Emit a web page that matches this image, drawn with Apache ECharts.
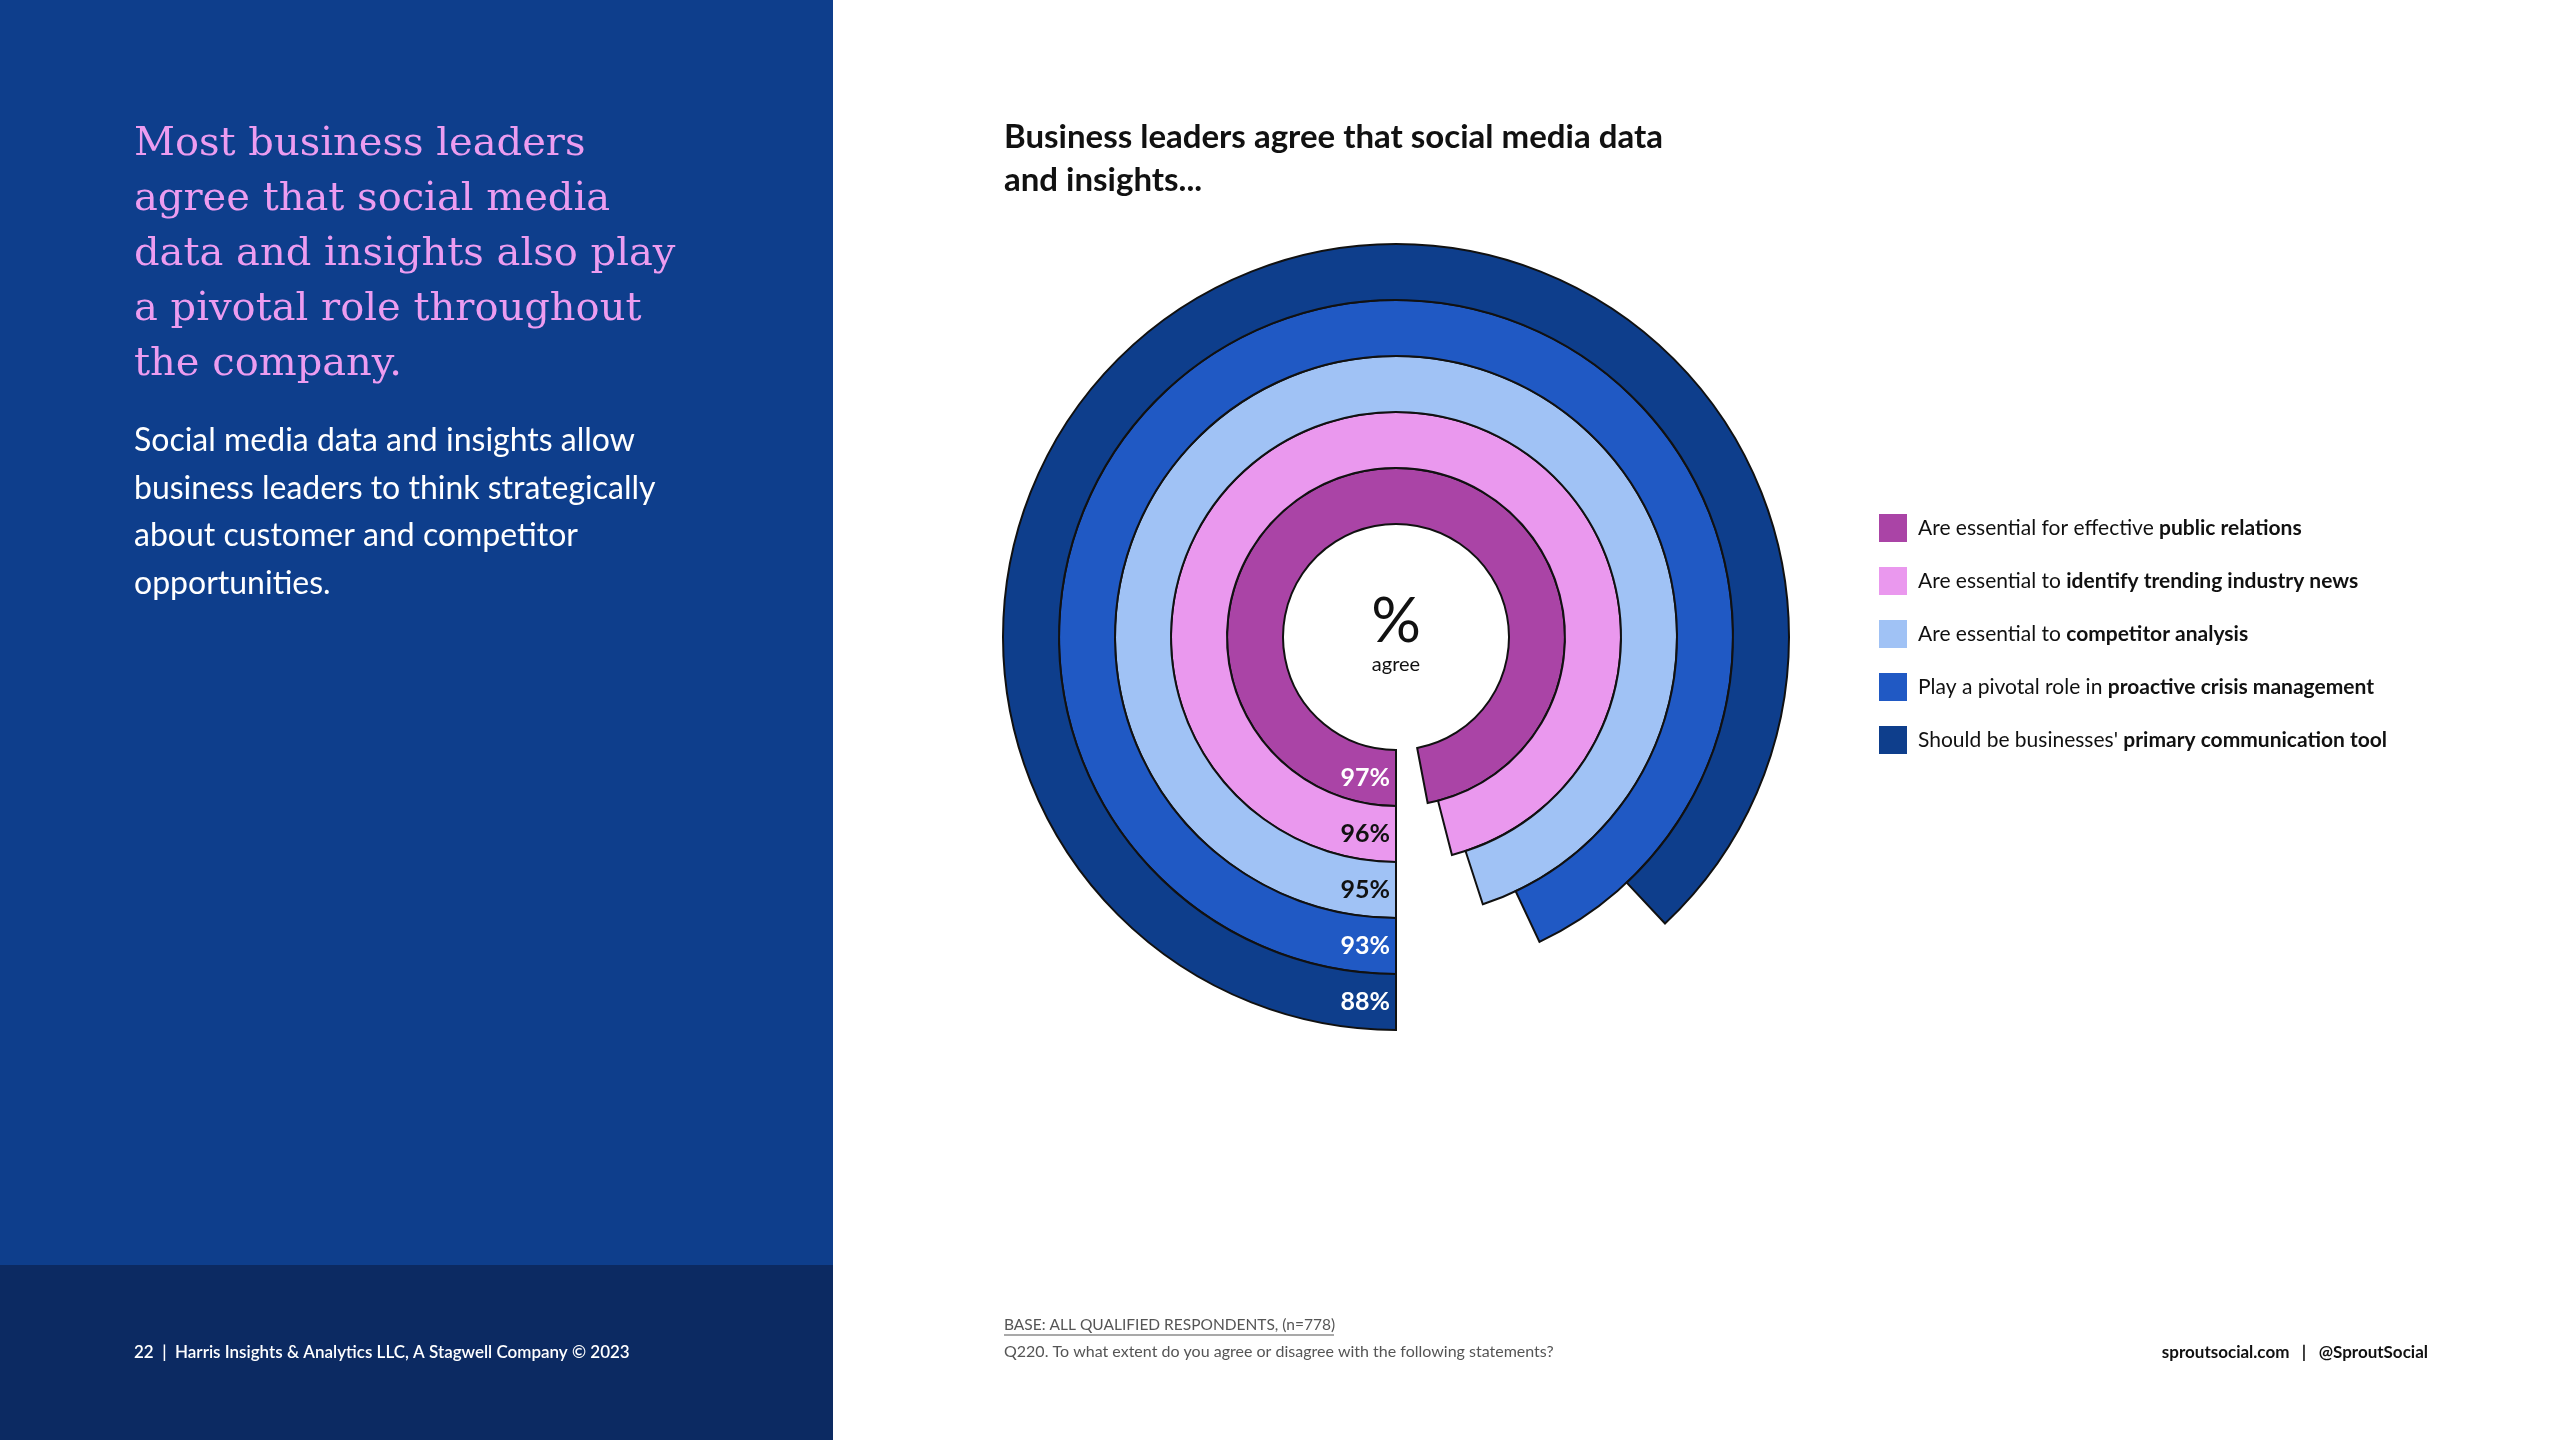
<!DOCTYPE html>
<html><head><meta charset="utf-8">
<script src="https://cdn.jsdelivr.net/npm/echarts/dist/echarts.min.js"></script>
<style>html,body{margin:0;padding:0;background:#fff}#c{width:2560px;height:1440px}</style>
</head><body><div id="c"></div>
<script>
const categories = ['public relations', 'identify trending industry news', 'competitor analysis', 'proactive crisis management', 'primary communication tool'];
const legendLead = ['Are essential for effective ', 'Are essential to ', 'Are essential to ', 'Play a pivotal role in ', "Should be businesses' "];
const legendBold = ['public relations', 'identify trending industry news', 'competitor analysis', 'proactive crisis management', 'primary communication tool'];
const agreeValues = [97, 96, 95, 93, 88];
const colors = ['#aa44a6', '#ea98ee', '#a0c2f5', '#2059c4', '#0e3e8c'];
const labelColors = ['#ffffff', '#111111', '#111111', '#ffffff', '#ffffff'];

const names = categories.map((c, i) => legendLead[i] + legendBold[i]);
const SANS = 'Lato, "Open Sans", sans-serif';

const series = categories.map((c, i) => ({
  type: 'bar',
  coordinateSystem: 'polar',
  name: names[i],
  data: categories.map((_, j) => (j === i ? agreeValues[i] : null)),
  barGap: '-100%',
  barCategoryGap: '0%',
  itemStyle: { color: colors[i], borderColor: '#111111', borderWidth: 2 },
  label: {
    show: true, position: 'insideStart', rotate: 0, align: 'right', offset: [-1, 0],
    formatter: '{c}%', color: labelColors[i],
    fontFamily: SANS, fontWeight: 'bold', fontSize: 25
  },
  silent: true
}));

const chart = echarts.init(document.getElementById('c'));
chart.setOption({
  animation: false,
  backgroundColor: '#ffffff',
  polar: { center: [1396, 637], radius: [113, 393] },
  angleAxis: { type: 'value', min: 0, max: 100, startAngle: 270, clockwise: true, show: false },
  radiusAxis: { type: 'category', data: categories, show: false },
  legend: {
    orient: 'vertical', left: 1874, top: 509,
    itemWidth: 28, itemHeight: 28, itemGap: 25, icon: 'rect',
    selectedMode: false,
    itemStyle: { borderWidth: 0 },
    data: names,
    formatter: function (name) {
      const i = names.indexOf(name);
      return '{n|' + legendLead[i] + '}{b|' + legendBold[i] + '}';
    },
    textStyle: {
      rich: {
        n: { fontFamily: SANS, fontSize: 21, color: '#111111', padding: [0, 0, 0, 6] },
        b: { fontFamily: SANS, fontSize: 21, fontWeight: 'bold', color: '#111111' }
      }
    }
  },
  graphic: [
    { type: 'rect', shape: { x: 0, y: 0, width: 833, height: 1265 }, style: { fill: '#0e3e8c' }, silent: true },
    { type: 'rect', shape: { x: 0, y: 1265, width: 833, height: 175 }, style: { fill: '#0c2a62' }, silent: true },
    { type: 'text', style: {
        x: 134, y: 117, textVerticalAlign: 'top',
        text: 'Most business leaders\nagree that social media\ndata and insights also play\na pivotal role throughout\nthe company.',
        font: '40px "DejaVu Serif", serif', lineHeight: 55, fill: '#ec9cf0' } },
    { type: 'text', style: {
        x: 134, y: 417, textVerticalAlign: 'top',
        text: 'Social media data and insights allow\nbusiness leaders to think strategically\nabout customer and competitor\nopportunities.',
        font: '32px ' + SANS, lineHeight: 47.5, fill: '#ffffff' } },
    { type: 'text', style: {
        x: 134, y: 1353, textVerticalAlign: 'middle',
        text: '22  |  Harris Insights & Analytics LLC, A Stagwell Company \u00a9 2023',
        font: '600 17px ' + SANS, fill: '#ffffff' } },
    { type: 'text', style: {
        x: 1004, y: 116, textVerticalAlign: 'top',
        text: 'Business leaders agree that social media data\nand insights...',
        font: 'bold 33px ' + SANS, lineHeight: 43, fill: '#111111' } },
    { type: 'text', style: {
        x: 1396, y: 622, textAlign: 'center', textVerticalAlign: 'middle',
        text: '%', font: '62px ' + SANS, fill: '#111111' } },
    { type: 'text', style: {
        x: 1396, y: 665, textAlign: 'center', textVerticalAlign: 'middle',
        text: 'agree', font: '20px ' + SANS, fill: '#111111' } },
    { type: 'text', style: {
        x: 1004, y: 1325, textVerticalAlign: 'middle',
        text: 'BASE: ALL QUALIFIED RESPONDENTS, (n=778)', font: '15.5px ' + SANS, fill: '#555555' } },
    { type: 'line', shape: { x1: 1004, y1: 1335, x2: 1334, y2: 1335 }, style: { stroke: '#555555', lineWidth: 1.2 }, silent: true },
    { type: 'text', style: {
        x: 1004, y: 1352, textVerticalAlign: 'middle',
        text: 'Q220. To what extent do you agree or disagree with the following statements?', font: '16px ' + SANS, fill: '#555555' } },
    { type: 'text', style: {
        x: 2428, y: 1353, textAlign: 'right', textVerticalAlign: 'middle',
        text: 'sproutsocial.com   |   @SproutSocial', font: 'bold 17px ' + SANS, fill: '#111111' } }
  ],
  series: series
});
</script>
</body></html>
